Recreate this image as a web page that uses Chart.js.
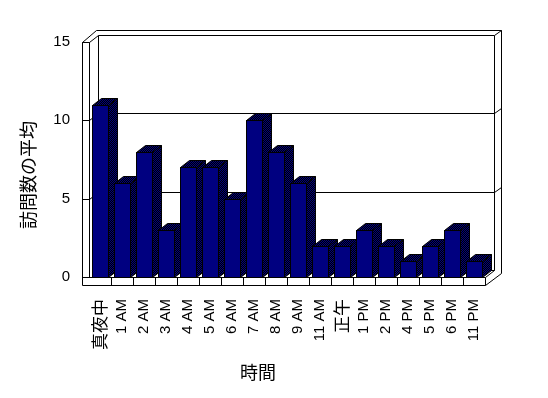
<!DOCTYPE html>
<html>
<head>
<meta charset="utf-8">
<script src="https://cdn.jsdelivr.net/npm/chart.js@4"></script>
<style>
    html, body { margin: 0; padding: 0; background: #fff; }
    #wrap { width: 548px; height: 398px; }
</style>
</head>
<body>
<div id="wrap"><canvas id="visitsChart" width="548" height="398"></canvas></div>
<script>
// data
const hours = ['真夜中', '1 AM', '2 AM', '3 AM', '4 AM', '5 AM', '6 AM', '7 AM', '8 AM', '9 AM',
    '11 AM', '正午', '1 PM', '2 PM', '4 PM', '5 PM', '6 PM', '11 PM'];
const avgVisits = [11, 6, 8, 3, 7, 7, 5, 10, 8, 6, 2, 2, 3, 2, 1, 2, 3, 1];
const yTicks = [0, 5, 10, 15];
const yTitle = '訪問数の平均';
const xTitle = '時間';

const CJK = '"Noto Sans CJK JP", "Noto Sans CJK SC", sans-serif';
const LATIN = '"Liberation Sans", Arial, sans-serif';
const isCJK = s => /[^\x00-\x7F]/.test(s);

// depth of the fake 3D box
const DX = 9, DY = -7;

function ditherPattern(ctx) {
    const c = document.createElement('canvas');
    c.width = 2; c.height = 2;
    const p = c.getContext('2d');
    p.fillStyle = '#000000';
    p.fillRect(0, 0, 2, 2);
    p.fillStyle = '#000080';
    p.fillRect(0, 0, 1, 1);
    p.fillRect(1, 1, 1, 1);
    return ctx.createPattern(c, 'repeat');
}

const box3d = {
    id: 'box3d',
    beforeDatasetsDraw(chart) {
        const { ctx, chartArea, scales } = chart;
        const L = chartArea.left, R = chartArea.right;
        const yS = scales.y;
        const T = Math.round(yS.getPixelForValue(yS.max));
        const B = Math.round(yS.getPixelForValue(0));
        const px = v => Math.round(v) + 0.5;
        const seg = (x1, y1, x2, y2) => {
            ctx.moveTo(px(x1), px(y1));
            ctx.lineTo(px(x2), px(y2));
        };

        const fx0 = L - 7, bxL = L + DX, bxR = R + DX;

        ctx.save();
        ctx.strokeStyle = '#000';
        ctx.lineWidth = 1;
        ctx.beginPath();
        // left wall
        seg(fx0, T, fx0, B + 8);
        seg(L, T, L, B);
        seg(fx0, T, L, T);
        seg(fx0, T, L + 7, T - 12);
        seg(L, T, bxL, T + DY);
        // back wall
        seg(L + 7, T - 12, R + 16, T - 12);
        seg(bxL, T + DY, bxR, T + DY);
        seg(bxR, T + DY, R + 16, T - 12);
        seg(R + 16, T - 12, R + 16, B - 4);
        seg(bxR, T + DY, bxR, B + DY);
        seg(bxL, T + DY, bxL, B + DY);
        // floor
        seg(fx0, B, R, B);
        seg(fx0, B + 8, R, B + 8);
        seg(R, B, R, B + 8);
        seg(R, B, bxR, B + DY);
        seg(R, B + 8, R + 16, B - 4);
        seg(bxL, B + DY, bxR, B + DY);
        const catW = (R - L) / hours.length;
        for (let i = 1; i < hours.length; i++) {
            seg(L + i * catW, B, L + i * catW, B + 8);
        }
        // gridlines on walls
        yTicks.forEach(v => {
            const yf = yS.getPixelForValue(v);
            seg(fx0, yf, L, yf);
            if (v > 0 && v < yS.max) {
                seg(L, yf, bxL, yf + DY);
                seg(bxL, yf + DY, bxR, yf + DY);
                seg(bxR, yf + DY, R + 16, yf - 12);
            }
        });
        ctx.stroke();

        // bars, left to right so each front hides the previous side
        const dither = ditherPattern(ctx);
        const meta = chart.getDatasetMeta(0);
        meta.data.forEach(bar => {
            const { x, y, base, width } = bar.getProps(['x', 'y', 'base', 'width'], true);
            const x0 = Math.round(x - width / 2), x1 = Math.round(x + width / 2);
            const yt = Math.round(y), yb = Math.round(base);
            ctx.fillStyle = dither;
            ctx.beginPath();
            ctx.moveTo(x1 + 0.5, yt + 0.5);
            ctx.lineTo(x1 + DX + 0.5, yt + DY + 0.5);
            ctx.lineTo(x1 + DX + 0.5, yb + DY + 0.5);
            ctx.lineTo(x1 + 0.5, yb + 0.5);
            ctx.closePath();
            ctx.fill();
            ctx.stroke();
            ctx.beginPath();
            ctx.moveTo(x0 + 0.5, yt + 0.5);
            ctx.lineTo(x0 + DX + 0.5, yt + DY + 0.5);
            ctx.lineTo(x1 + DX + 0.5, yt + DY + 0.5);
            ctx.lineTo(x1 + 0.5, yt + 0.5);
            ctx.closePath();
            ctx.fill();
            ctx.stroke();
            ctx.fillStyle = bar.options.backgroundColor;
            ctx.fillRect(x0, yt, x1 - x0, yb - yt);
            ctx.strokeStyle = bar.options.borderColor;
            ctx.strokeRect(x0 + 0.5, yt + 0.5, x1 - x0, yb - yt);
        });
        ctx.restore();
        return false;
    },
    afterDraw(chart) {
        const { ctx } = chart;
        ctx.save();
        ctx.fillStyle = '#000';
        ctx.font = '18px ' + CJK;
        ctx.textAlign = 'center';
        ctx.textBaseline = 'middle';
        ctx.fillText(xTitle, 258, 372);
        ctx.translate(28, 175);
        ctx.rotate(-Math.PI / 2);
        ctx.fillText(yTitle, 0, 0);
        ctx.restore();
    }
};

Chart.defaults.font.family = LATIN;
Chart.defaults.color = '#000';

const visitsCtx = document.getElementById('visitsChart').getContext('2d');
new Chart(visitsCtx, {
    type: 'bar',
    data: {
        labels: hours,
        datasets: [{
            data: avgVisits,
            backgroundColor: '#000080',
            borderColor: '#000000',
            borderWidth: 1,
            categoryPercentage: 1,
            barPercentage: 0.77
        }]
    },
    options: {
        responsive: false,
        animation: false,
        devicePixelRatio: 1,
        layout: { padding: { left: 0, right: 63, top: 42, bottom: 0 } },
        plugins: {
            legend: { display: false },
            tooltip: { enabled: false }
        },
        scales: {
            x: {
                grid: { display: false, drawTicks: false },
                border: { display: false },
                ticks: {
                    autoSkip: false,
                    minRotation: 90,
                    maxRotation: 90,
                    padding: 22,
                    font: c => isCJK(hours[c.index] || '')
                        ? { family: CJK, size: 17 }
                        : { family: LATIN, size: 15 }
                },
                afterFit: scale => { scale.height = 121; }
            },
            y: {
                min: 0,
                max: 15,
                grid: { display: false, drawTicks: false },
                border: { display: false },
                ticks: {
                    stepSize: 5,
                    padding: 19,
                    font: { family: LATIN, size: 15 }
                },
                afterFit: scale => { scale.width = 89; }
            }
        }
    },
    plugins: [box3d]
});
</script>
</body>
</html>
